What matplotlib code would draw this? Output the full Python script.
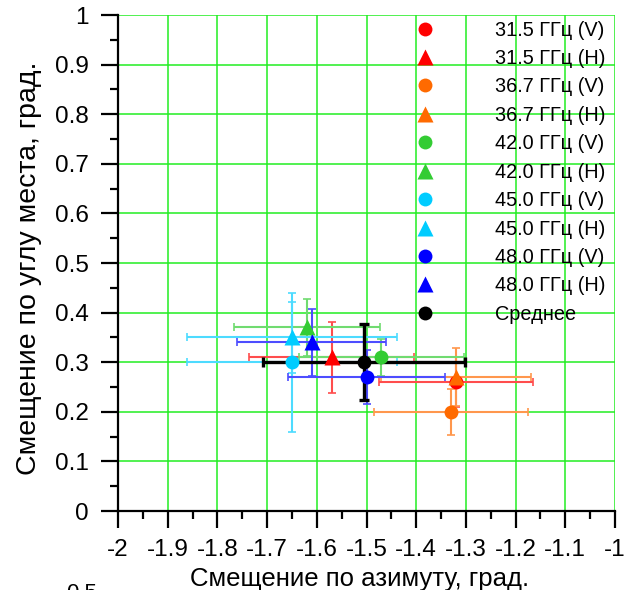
import matplotlib
matplotlib.use('Agg')
import matplotlib.pyplot as plt
from matplotlib.colors import to_rgb
from matplotlib.lines import Line2D
from matplotlib.ticker import MultipleLocator

labels = ['31.5 ГГц (V)', '31.5 ГГц (H)', '36.7 ГГц (V)', '36.7 ГГц (H)',
          '42.0 ГГц (V)', '42.0 ГГц (H)', '45.0 ГГц (V)', '45.0 ГГц (H)',
          '48.0 ГГц (V)', '48.0 ГГц (H)']
az_offset = [-1.32, -1.57, -1.33, -1.32, -1.47, -1.62, -1.65, -1.65, -1.50, -1.61]
el_offset = [0.26, 0.31, 0.20, 0.27, 0.31, 0.37, 0.30, 0.35, 0.27, 0.34]
az_err = [0.155, 0.166, 0.154, 0.150, 0.166, 0.147, 0.212, 0.212, 0.157, 0.150]
el_err = [0.050, 0.072, 0.046, 0.058, 0.037, 0.057, 0.140, 0.072, 0.055, 0.068]

mean_label = 'Среднее'
mean_az, mean_el = -1.505, 0.30
mean_az_err, mean_el_err = 0.203, 0.077

band_colors = ['#FF0000', '#FF6A00', '#33CC33', '#00CCFF', '#0000FF']


def _lighten(color, keep=0.7):
    r, g, b = to_rgb(color)
    return (r * keep + 1 - keep, g * keep + 1 - keep, b * keep + 1 - keep)


matplotlib.rc('font', **{'family': 'sans-serif', 'sans-serif': ['Liberation Sans', 'DejaVu Sans']})

fig = plt.figure(figsize=(6.26, 5.9), dpi=100)
ax = fig.add_axes([118 / 626, 1 - 511 / 590, 497 / 626, 496 / 590])

colors = [band_colors[i // 2] for i in range(len(labels))]
markers = ['o' if i % 2 == 0 else '^' for i in range(len(labels))]
msizes = [10 if m == 'o' else 11.5 for m in markers]

for i in range(len(labels)):
    ax.errorbar(az_offset[i], el_offset[i], xerr=az_err[i], yerr=el_err[i], fmt='none',
                ecolor=_lighten(colors[i]), elinewidth=1.5, capsize=3, capthick=1.2, zorder=3)

ax.errorbar(mean_az, mean_el, xerr=mean_az_err, yerr=mean_el_err, fmt='none',
            ecolor='black', elinewidth=2.4, capsize=3.5, capthick=2.4, zorder=4)

for i in range(len(labels)):
    ax.plot(az_offset[i], el_offset[i], ls='', marker=markers[i], ms=msizes[i],
            color=colors[i], markeredgecolor='none', zorder=5)
ax.plot(mean_az, mean_el, ls='', marker='o', ms=10, color='black', markeredgecolor='none', zorder=6)

ax.set_xlim(-2, -1)
ax.set_ylim(0, 1)
ax.xaxis.set_minor_locator(MultipleLocator(0.05))
ax.yaxis.set_minor_locator(MultipleLocator(0.05))
ax.set_xticks([-2 + 0.1 * k for k in range(11)])
ax.set_xticklabels(['-2', '-1.9', '-1.8', '-1.7', '-1.6', '-1.5', '-1.4', '-1.3', '-1.2', '-1.1', '-1'])
ax.set_yticks([0.1 * k for k in range(11)])
ax.set_yticklabels(['0', '0.1', '0.2', '0.3', '0.4', '0.5', '0.6', '0.7', '0.8', '0.9', '1'])

ax.grid(True, which='major', color='#22EE22', lw=1.1, zorder=0)
ax.set_axisbelow(True)

for spine_name in ['top', 'right']:
    ax.spines[spine_name].set_visible(False)
for spine_name in ['left', 'bottom']:
    ax.spines[spine_name].set_linewidth(1.6)

ax.tick_params(which='major', direction='out', length=12, width=1.6, labelsize=17.5)
ax.tick_params(which='minor', direction='out', length=6, width=1.6)
ax.tick_params(axis='x', which='major', pad=8)
ax.tick_params(axis='y', which='major', pad=9)

ax.set_xlabel('Смещение по азимуту, град.', fontsize=18.5)
ax.set_ylabel('Смещение по углу места, град.', fontsize=20.5)
ax.xaxis.set_label_coords(0.487, -0.113)
ax.yaxis.set_label_coords(-0.153, 0.49)

handles = [Line2D([], [], ls='', marker=markers[i], ms=msizes[i], color=colors[i],
                  markeredgecolor='none') for i in range(len(labels))]
handles.append(Line2D([], [], ls='', marker='o', ms=10, color='black', markeredgecolor='none'))
leg = fig.legend(handles, labels + [mean_label], loc='upper left',
                 bbox_to_anchor=(405 / 626, 1 - 20.5 / 590), frameon=False, fontsize=14.3,
                 handlelength=2.0, handletextpad=2.55, borderpad=0, borderaxespad=0,
                 labelspacing=0.475)

fig.text(97 / 626, 1 - 583 / 590, '0.5', ha='right', va='top', fontsize=16)

plt.savefig('out.png', dpi=100)
plt.close()
